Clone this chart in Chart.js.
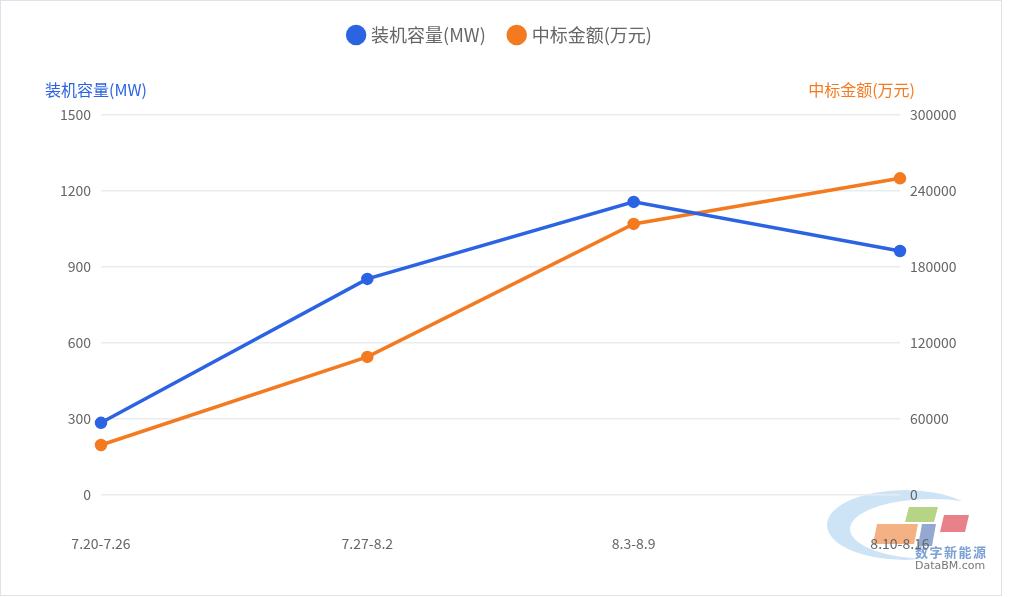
<!DOCTYPE html>
<html>
<head>
<meta charset="utf-8">
<script src="https://cdn.jsdelivr.net/npm/chart.js@4/dist/chart.umd.min.js"></script>
<style>
   html, body { margin: 0; padding: 0; background: #fff; }
   #box { position: absolute; left: 0; top: 0; width: 1000px; height: 594px; border: 1px solid #dde3ea; }
   #lineChart { display: block; }
</style>
</head>
<body>
<div id="box"><canvas id="lineChart" width="1000" height="594"></canvas></div>
<script>
/*******************************************************
 * /            装机容量 / 中标金额 weekly trend         * /
 ********************************************************/
const weeks = ["7.20-7.26", "7.27-8.2", "8.3-8.9", "8.10-8.16"];
const capacity = [285, 853, 1157, 963];
const bidAmount = [39500, 109000, 214000, 250000];
const capacityTicks = [0, 300, 600, 900, 1200, 1500];
const amountTicks = [0, 60000, 120000, 180000, 240000, 300000];

const blue = "#2b63e3";
const orange = "#f47a20";
const fontFamily = "'Noto Sans CJK SC', 'Noto Sans', sans-serif";

// make room under the legend for the axis titles
const legendSpace = {
   id: "legendSpace",
   beforeInit(chart) {
      const fit = chart.legend.fit;
      chart.legend.fit = function () {
         fit.call(this);
         this.height += 61;
      };
   },
};

// axis titles sit above the axes, not rotated
const axisTitles = {
   id: "axisTitles",
   afterDraw(chart) {
      const ctx = chart.ctx;
      const area = chart.chartArea;
      ctx.save();
      ctx.font = "16px " + fontFamily;
      ctx.textBaseline = "middle";
      ctx.fillStyle = blue;
      ctx.textAlign = "left";
      ctx.fillText("装机容量(MW)", 44, area.top - 25);
      ctx.fillStyle = orange;
      ctx.textAlign = "right";
      ctx.fillText("中标金额(万元)", 914, area.top - 25);
      ctx.restore();
   },
};

// watermark logo in the bottom right corner
const watermark = {
   id: "watermark",
   beforeDraw(chart) {
      const ctx = chart.ctx;
      ctx.save();
      ctx.translate(-1, -1);
      // crescent
      ctx.beginPath();
      ctx.ellipse(905, 525, 78, 35, 0, 0, Math.PI * 2);
      ctx.fillStyle = "#cde3f6";
      ctx.fill();
      ctx.globalCompositeOperation = "destination-out";
      ctx.beginPath();
      ctx.ellipse(932, 529, 82, 30, 0, 0, Math.PI * 2);
      ctx.fill();
      ctx.globalCompositeOperation = "source-over";
      // tiles
      function tile(x, y, w, h, s, c) {
         ctx.beginPath();
         ctx.moveTo(x + s, y);
         ctx.lineTo(x + w + s, y);
         ctx.lineTo(x + w, y + h);
         ctx.lineTo(x, y + h);
         ctx.closePath();
         ctx.fillStyle = c;
         ctx.fill();
      }
      tile(905, 507, 29, 15, 4, "#b5d584");
      tile(873, 524, 41, 20, 4, "#f4b184");
      tile(918, 524, 14, 22, 4, "#94a9d2");
      tile(940, 515, 25, 17, 4, "#e8818a");
      ctx.font = "bold 13px " + fontFamily;
      ctx.fillStyle = "#7ba0d4";
      ctx.textBaseline = "middle";
      ctx.textAlign = "left";
      const chars = "数字新能源";
      for (let i = 0; i < chars.length; i++) {
         ctx.fillText(chars[i], 915 + i * 14.5, 552);
      }
      ctx.font = "11px 'DejaVu Sans', sans-serif";
      ctx.fillStyle = "#777";
      ctx.fillText("DataBM.com", 915, 566);
      ctx.restore();
   },
};

const linechart = document.getElementById("lineChart").getContext("2d");

const lineChart = new Chart(linechart, {
   type: "line",
   data: {
      labels: weeks,
      datasets: [
         {
            label: "装机容量(MW)",
            data: capacity,
            yAxisID: "y",
            borderColor: blue,
            backgroundColor: blue,
            borderWidth: 3.5,
            pointRadius: 4.5,
            pointHoverRadius: 4.5,
            tension: 0,
         },
         {
            label: "中标金额(万元)",
            data: bidAmount,
            yAxisID: "y1",
            borderColor: orange,
            backgroundColor: orange,
            borderWidth: 3.5,
            pointRadius: 4.5,
            pointHoverRadius: 4.5,
            tension: 0,
         },
      ],
   },
   plugins: [legendSpace, watermark, axisTitles],
   options: {
      responsive: false,
      animation: false,
      layout: { padding: { top: 0, left: 0, right: 0, bottom: 0 } },
      plugins: {
         legend: {
            position: "top",
            labels: {
               usePointStyle: true,
               pointStyle: "circle",
               boxWidth: 12,
               boxHeight: 12,
               padding: 25,
               color: "#666",
               font: { size: 18, family: fontFamily },
            },
         },
         tooltip: { enabled: false },
      },
      scales: {
         x: {
            offset: false,
            grid: { display: false, drawTicks: false },
            border: { display: false },
            ticks: {
               color: "#666",
               padding: 40,
               maxRotation: 0,
               font: { size: 14, family: fontFamily },
            },
            afterFit(scale) {
               scale.height = 100;
            },
         },
         y: {
            position: "left",
            min: 0,
            max: 1500,
            afterBuildTicks(scale) {
               scale.ticks = capacityTicks.map((v) => ({ value: v }));
            },
            grid: { color: "#e8ecf1", lineWidth: 1.5, drawTicks: false },
            border: { display: false },
            ticks: {
               color: "#666",
               padding: 10,
               font: { size: 14, family: fontFamily },
               callback: (v) => String(v),
            },
            afterFit(scale) {
               scale.width = 100;
            },
         },
         y1: {
            position: "right",
            min: 0,
            max: 300000,
            afterBuildTicks(scale) {
               scale.ticks = amountTicks.map((v) => ({ value: v }));
            },
            grid: { display: false, drawTicks: false },
            border: { display: false },
            ticks: {
               color: "#666",
               padding: 10,
               font: { size: 14, family: fontFamily },
               callback: (v) => String(v),
            },
            afterFit(scale) {
               scale.width = 101;
            },
         },
      },
   },
});
</script>
</body>
</html>
